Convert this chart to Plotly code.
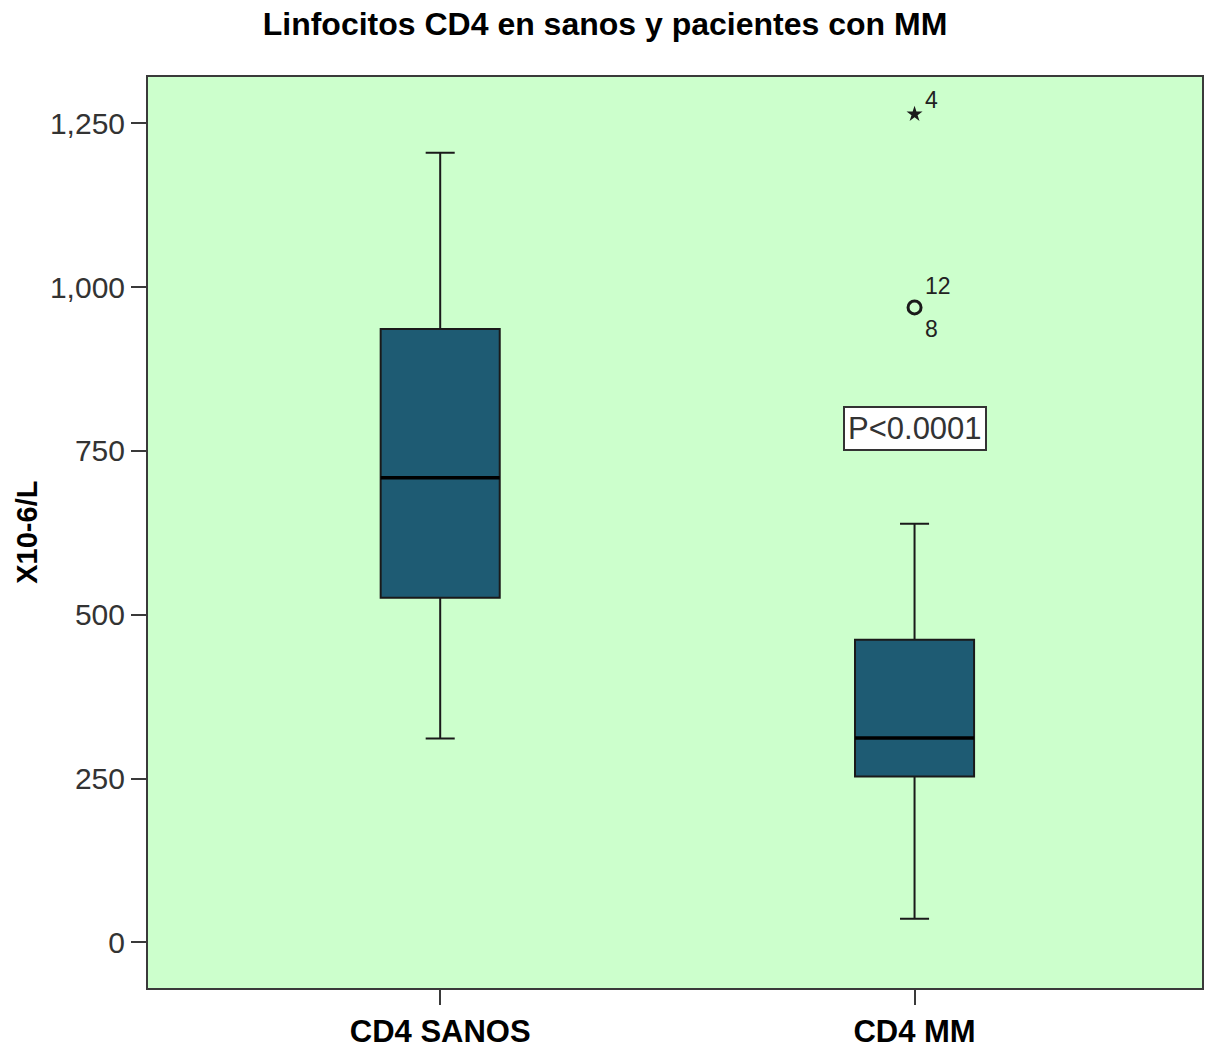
import plotly.graph_objects as go

# Group labels and five-number summaries (X10-6/L)
groups = ["CD4 SANOS", "CD4 MM"]
upper_whisker = [1205, 639]
q3 = [936, 462]
median = [709, 312]
q1 = [526, 253]
lower_whisker = [311, 36]

# Outlying cases in the MM group
outlier_circle_y = [969]
outlier_star_y = [1264]
case_labels = {"4": 1264, "12": 969, "8": 969}

y_ticks = [0, 250, 500, 750, 1000, 1250]

FONT = "Liberation Sans, Arial, sans-serif"
BOX_FILL = "#1e5b73"
LINE = "#1a1a1a"
FRAME = "#3a3a3a"
BOX_WIDTH = 0.251

fig = go.Figure()

for i, name in enumerate(groups):
    fig.add_trace(go.Box(
        x=[i],
        q1=[q1[i]], median=[median[i]], q3=[q3[i]],
        lowerfence=[lower_whisker[i]], upperfence=[upper_whisker[i]],
        width=BOX_WIDTH, whiskerwidth=0.244,
        fillcolor=BOX_FILL,
        line=dict(color=LINE, width=2),
        boxpoints=False, showlegend=False, name=name,
        hoverinfo="skip",
    ))
    # heavier median bar
    fig.add_trace(go.Scatter(
        x=[i - BOX_WIDTH / 2, i + BOX_WIDTH / 2], y=[median[i], median[i]],
        mode="lines", line=dict(color="#000", width=3.5),
        showlegend=False, hoverinfo="skip",
    ))

# Mild outlier (circle) and extreme outlier (star)
fig.add_trace(go.Scatter(
    x=[1] * len(outlier_circle_y), y=outlier_circle_y, mode="markers",
    marker=dict(symbol="circle-open", size=13, color=LINE, line=dict(width=3, color=LINE)),
    showlegend=False, hoverinfo="skip",
))
fig.add_trace(go.Scatter(
    x=[1] * len(outlier_star_y), y=outlier_star_y, mode="markers",
    marker=dict(symbol="star", size=12, color=LINE, line=dict(width=0)),
    showlegend=False, hoverinfo="skip",
))

label_offsets = {"4": (17, 14), "12": (23, 21), "8": (17, -22)}
for lab, yv in case_labels.items():
    dx, dy = label_offsets[lab]
    fig.add_annotation(
        x=1, y=yv, xref="x", yref="y", text=lab, showarrow=False,
        xshift=dx, yshift=dy, font=dict(family=FONT, size=23, color="#222"),
    )

# Significance label
fig.add_annotation(
    x=1, y=784, xref="x", yref="y", text="P<0.0001", showarrow=False,
    font=dict(family=FONT, size=31, color="#333"),
    bgcolor="white", bordercolor="#333", borderwidth=2, borderpad=3,
)

# Y axis title
fig.add_annotation(
    x=-(148 - 26) / 1056, y=0.5, xref="paper", yref="paper",
    text="<b>X10-6/L</b>", textangle=-90, showarrow=False,
    xanchor="center", yanchor="middle",
    font=dict(family=FONT, size=29, color="black"),
)

fig.update_layout(
    width=1206, height=1051,
    margin=dict(l=148, r=2, t=77, b=63),
    paper_bgcolor="white", plot_bgcolor="#ccffcc",
    title=dict(
        text="<b>Linfocitos CD4 en sanos y pacientes con MM</b>",
        x=605 / 1206, xanchor="center", y=1 - 24 / 1051, yanchor="middle",
        yref="container", xref="container",
        font=dict(family=FONT, size=32, color="black"),
    ),
    xaxis=dict(
        range=[-0.616, 1.606], tickvals=[0, 1], ticktext=groups,
        showgrid=False, zeroline=False,
        showline=True, mirror=True, linecolor=FRAME, linewidth=2,
        ticks="outside", ticklen=15, tickwidth=2, tickcolor=FRAME,
        tickfont=dict(family=FONT, size=31, color="black", weight="bold"),
    ),
    yaxis=dict(
        range=[-69.6, 1320.7], tickvals=y_ticks, tickformat=",",
        showgrid=False, zeroline=False,
        showline=True, mirror=True, linecolor=FRAME, linewidth=2,
        ticks="outside", ticklen=15, tickwidth=2, tickcolor=FRAME,
        tickfont=dict(family=FONT, size=30, color="#333"),
    ),
)

fig.write_html("out.html")
